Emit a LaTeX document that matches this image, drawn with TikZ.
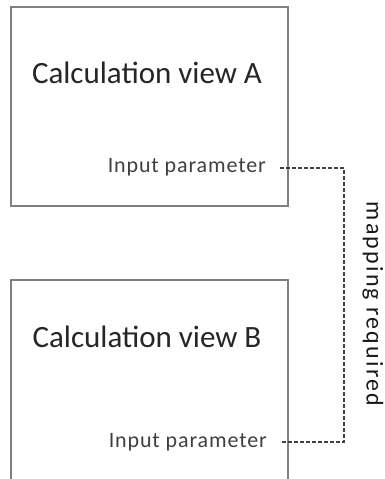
\documentclass[tikz,border=0pt]{standalone}
\usepackage{fontspec}
\setmainfont{Carlito}
\begin{document}
\begin{tikzpicture}[x=1pt,y=-1pt,
  viewbox/.style={draw=black!50,line width=1.8pt},
  titletext/.style={font=\fontsize{31}{35}\selectfont,text=black!85,inner sep=0pt},
  paramtext/.style={font=\fontsize{22}{25}\selectfont\addfontfeature{LetterSpace=4},text=black!75,inner sep=0pt},
  maptext/.style={font=\fontsize{24}{27}\selectfont\addfontfeature{LetterSpace=9},text=black!90,inner sep=0pt},
  maplink/.style={draw=black!75,line width=2pt,dashed,dash pattern=on 4pt off 2pt}]
\useasboundingbox (0,0) rectangle (385,479);
\fill[white] (0,0) rectangle (385,479);
\draw[viewbox] (11,7) rectangle (288,206);
\draw[viewbox] (11,280) rectangle (288,482);
\node[titletext] (ta) at (147,73) {Calculation view A};
\node[titletext] (tb) at (147,337) {Calculation view B};
\node[paramtext,anchor=east] (pa) at (266,167) {Input parameter};
\node[paramtext,anchor=east] (pb) at (267,442) {Input parameter};
\coordinate (c1) at (344,168);
\coordinate (c2) at (344,442);
\draw[maplink] (280,168) -- (c1) -- (c2) -- (280,442);
\node[maptext,rotate=-90] (mr) at (373,304) {mapping required};
\end{tikzpicture}
\end{document}
